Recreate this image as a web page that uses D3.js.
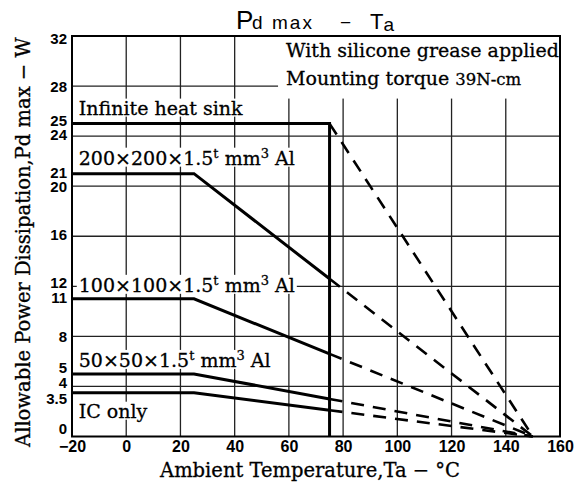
<!DOCTYPE html>
<html>
<head>
<meta charset="utf-8">
<script src="https://cdn.jsdelivr.net/npm/d3@7"></script>
<style>
body { margin: 0; background: #fff; }
svg { display: block; }
</style>
</head>
<body>
<svg id="chart" width="574" height="486"></svg>
<script>
// values
var tempTicks = [-20, 0, 20, 40, 60, 80, 100, 120, 140, 160];
var powerTicks = [0, 3.5, 4, 5, 8, 11, 12, 16, 20, 21, 24, 25, 28, 32];
var gridTemps = [0, 20, 40, 60, 80, 100, 120, 140];
var gridPowers = [4, 8, 12, 16, 20, 24, 28];

var curveNames = ["Infinite heat sink", "200x200", "100x100", "50x50", "IC only"];
var solidPts = [
	[[-20, 25], [75, 25], [75, 0]],
	[[-20, 21], [25, 21], [75, 12.6]],
	[[-20, 11], [25, 11], [75, 6.6]],
	[[-20, 5], [25, 5], [75, 3.0]],
	[[-20, 3.5], [25, 3.5], [75, 2.1]]
];
var dashPts = [
	[[75, 25], [150, 0]],
	[[75, 12.6], [150, 0]],
	[[75, 6.6], [150, 0]],
	[[75, 3.0], [150, 0]],
	[[75, 2.1], [150, 0]]
];
var labelPower = [25, 21, 11, 5, 3.5];

var svg = d3.select("#chart");
var x = d3.scaleLinear().domain([-20, 160]).range([72, 560]);
var y = d3.scaleLinear().domain([0, 32]).range([436.5, 36]);

var serif = "'DejaVu Serif', serif";
var sans = "'Liberation Sans', Arial, sans-serif";

// grid
svg.append("g").selectAll("line.v")
	.data(gridTemps).enter().append("line")
		.attr("x1", function(d){return x(d);})
		.attr("x2", function(d){return x(d);})
		.attr("y1", y(32)).attr("y2", y(0))
		.attr("stroke", "#222").attr("stroke-width", 1.3);
svg.append("g").selectAll("line.h")
	.data(gridPowers).enter().append("line")
		.attr("x1", x(-20)).attr("x2", x(160))
		.attr("y1", function(d){return y(d);})
		.attr("y2", function(d){return y(d);})
		.attr("stroke", "#222").attr("stroke-width", 1.3);

// white panel behind the conditions note
svg.append("rect")
	.attr("x", x(56)).attr("y", y(32))
	.attr("width", x(160) - x(56)).attr("height", y(27) - y(32))
	.attr("fill", "#fff");

// frame
svg.append("rect")
	.attr("x", x(-20)).attr("y", y(32))
	.attr("width", x(160) - x(-20)).attr("height", y(0) - y(32))
	.attr("fill", "none").attr("stroke", "#000").attr("stroke-width", 2);

// axes (labels only)
// crowded labels are pushed apart on the sheet, px shift per label
function nudge(d) {
	if (d == 0) return -8;
	if (d == 3.5) return 5;
	if (d == 4) return -4.5;
	if (d == 5) return -6.5;
	if (d == 11) return -1.5;
	if (d == 12) return -4;
	if (d == 16 || d == 21 || d == 24) return -2;
	if (d == 25) return -3.5;
	if (d == 32) return 2;
	return 0;
}
var yaxis = d3.axisLeft(y).tickValues(powerTicks).tickSize(0).tickPadding(5)
	.tickFormat(function(d){return d;});
var gy = svg.append("g").attr("transform", "translate(" + x(-20) + ",0)").call(yaxis);
gy.select(".domain").remove();
gy.selectAll("text").attr("font-family", sans).attr("font-weight", "bold")
	.attr("font-size", 15).attr("fill", "#000")
	.attr("dy", function(d){return (5.4 + nudge(d)) + "px";});

var xaxis = d3.axisBottom(x).tickValues(tempTicks).tickSize(0).tickPadding(4)
	.tickFormat(function(d){return d < 0 ? "\u2212" + (-d) : d;});
var gx = svg.append("g").attr("transform", "translate(0," + y(0) + ")").call(xaxis);
gx.select(".domain").remove();
gx.selectAll("text").attr("font-family", sans).attr("font-weight", "bold")
	.attr("font-size", 16).attr("fill", "#000");

// curves
var line = d3.line().x(function(d){return x(d[0]);}).y(function(d){return y(d[1]);});
svg.append("g").selectAll("path.solid")
	.data(solidPts).enter().append("path")
		.attr("d", line)
		.attr("fill", "none").attr("stroke", "#000")
		.attr("stroke-width", 3).attr("stroke-linejoin", "miter");
svg.append("g").selectAll("path.dash")
	.data(dashPts).enter().append("path")
		.attr("d", line)
		.attr("fill", "none").attr("stroke", "#000")
		.attr("stroke-width", 2.6).attr("stroke-dasharray", "13,9");

// text with a white patch behind it, like the printed sheet
function boxed(t) {
	var b = t.node().getBBox();
	svg.insert("rect", function(){return t.node();})
		.attr("x", b.x - 2).attr("y", b.y + 2)
		.attr("width", b.width + 4).attr("height", b.height - 4)
		.attr("fill", "#fff");
}

function addLabel(i, parts, dy) {
	var t = svg.append("text")
		.attr("x", x(-17.5)).attr("y", y(labelPower[i]) + dy)
		.attr("font-family", serif).attr("font-size", 19)
		.attr("fill", "#000").attr("stroke", "#000").attr("stroke-width", 0.3);
	parts.forEach(function(p){
		var s = t.append("tspan").text(p[0]);
		if (p[1]) s.attr("dy", p[1]).attr("font-size", 13);
		if (p[2]) s.attr("dy", p[2]);
	});
	boxed(t);
}
addLabel(0, [["Infinite heat sink"]], -9);
addLabel(1, [["200\u00d7200\u00d71.5"], ["t", -7], [" mm", 0, 7], ["3", -7], [" Al", 0, 7]], -9);
addLabel(2, [["100\u00d7100\u00d71.5"], ["t", -7], [" mm", 0, 7], ["3", -7], [" Al", 0, 7]], -7);
addLabel(3, [["50\u00d750\u00d71.5"], ["t", -7], [" mm", 0, 7], ["3", -7], [" Al", 0, 7]], -7);
addLabel(4, [["IC only"]], 25);

// conditions note
svg.append("text").attr("x", 286).attr("y", 57)
	.attr("font-family", serif).attr("font-size", 19)
	.attr("stroke", "#000").attr("stroke-width", 0.3)
	.text("With silicone grease applied");
var note = svg.append("text").attr("x", 286).attr("y", 85)
	.attr("font-family", serif).attr("font-size", 19)
	.attr("stroke", "#000").attr("stroke-width", 0.3);
note.append("tspan").text("Mounting torque ");
note.append("tspan").attr("font-size", 16.5).text("39N-cm");

// title
var title = svg.append("text").attr("y", 29)
	.attr("font-family", sans).attr("font-size", 19);
title.append("tspan").attr("x", 236).attr("font-size", 26).text("P");
title.append("tspan").attr("x", 252).attr("textLength", 60).text("d max");
title.append("tspan").attr("x", 340).text("\u2212");
title.append("tspan").attr("x", 370).attr("font-size", 22).text("T");
title.append("tspan").attr("dy", 2).text("a");

// axis titles
svg.append("text")
	.attr("transform", "translate(30," + ((y(0) + y(32)) / 2 + 6) + ") rotate(-90)")
	.attr("text-anchor", "middle")
	.attr("font-family", serif).attr("font-size", 19.5)
	.attr("stroke", "#000").attr("stroke-width", 0.3)
	.text("Allowable Power Dissipation,Pd max \u2212 W");

svg.append("text")
	.attr("x", 310).attr("y", 477)
	.attr("text-anchor", "middle")
	.attr("font-family", serif).attr("font-size", 19.5)
	.attr("stroke", "#000").attr("stroke-width", 0.3)
	.text("Ambient Temperature,Ta \u2212 \u00b0C");
</script>
</body>
</html>
